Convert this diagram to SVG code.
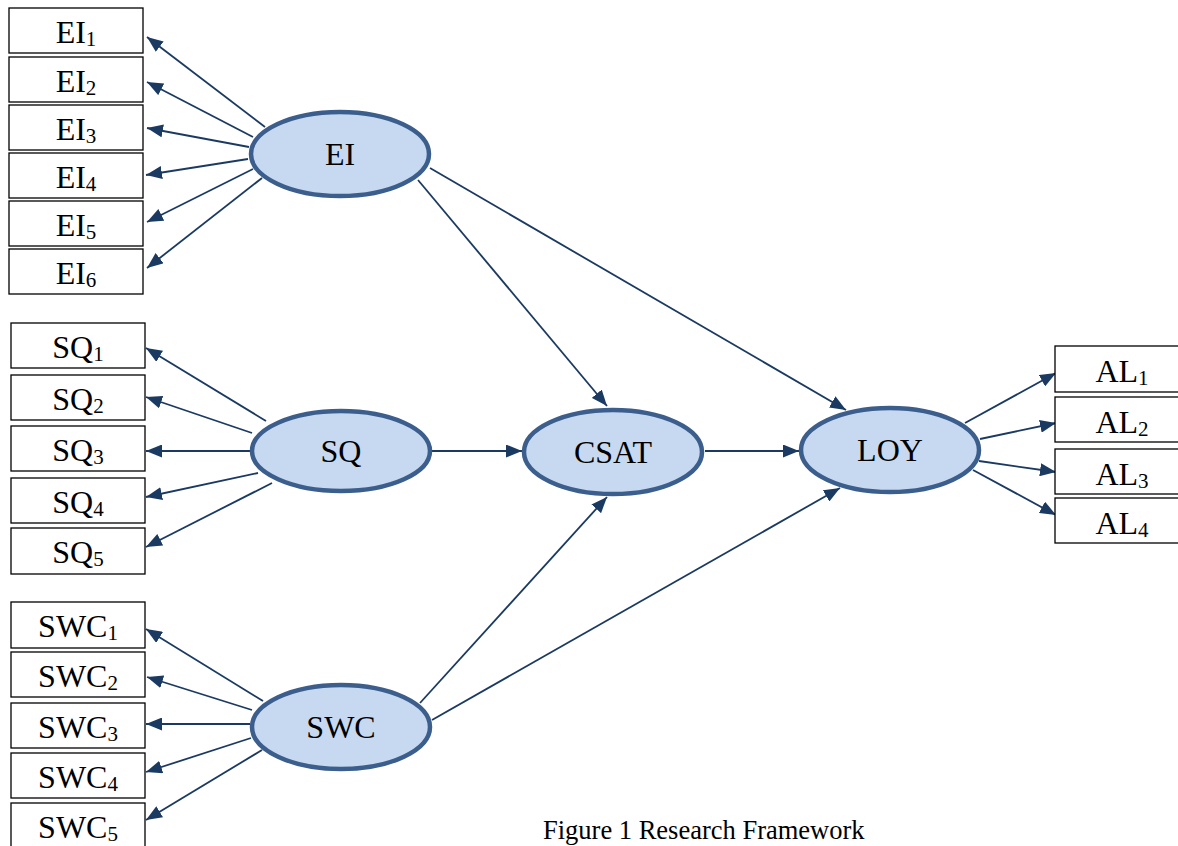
<svg xmlns="http://www.w3.org/2000/svg" width="1178" height="846" viewBox="0 0 1178 846">
<style>
.box{fill:#fff;stroke:#000;stroke-width:1.3}
.lat{fill:#C6D9F1;stroke:#3B5E8C;stroke-width:4.5}
.t{font-family:"Liberation Serif","Times New Roman",serif;font-size:32px;fill:#000;text-anchor:middle}
.s{font-size:21px}
.c{stroke:#1B3A62;stroke-width:1.8;fill:none;marker-end:url(#ah)}
.cap{font-family:"Liberation Serif","Times New Roman",serif;font-size:26.5px;fill:#000}
</style>
<defs>
<marker id="ah" markerUnits="userSpaceOnUse" markerWidth="17" markerHeight="13" refX="16" refY="6.5" orient="auto">
<path d="M0,0 L16,6.5 L0,13 Z" fill="#1B3A62"/>
</marker>
</defs>
<rect width="1178" height="846" fill="#fff"/>

<g id="connectors">
<line class="c" x1="265" y1="127" x2="147" y2="37"/>
<line class="c" x1="253" y1="137" x2="147" y2="82"/>
<line class="c" x1="249" y1="147" x2="147" y2="128"/>
<line class="c" x1="248" y1="159" x2="146" y2="175"/>
<line class="c" x1="253" y1="169" x2="147" y2="222"/>
<line class="c" x1="262" y1="178" x2="147" y2="268"/>

<line class="c" x1="266" y1="421" x2="146" y2="348"/>
<line class="c" x1="252" y1="433" x2="146" y2="397"/>
<line class="c" x1="250" y1="451" x2="146" y2="451"/>
<line class="c" x1="258" y1="473" x2="146" y2="497"/>
<line class="c" x1="272" y1="483" x2="146" y2="547"/>

<line class="c" x1="263" y1="701" x2="146" y2="629"/>
<line class="c" x1="252" y1="710" x2="147" y2="677"/>
<line class="c" x1="250" y1="724" x2="146" y2="724"/>
<line class="c" x1="251" y1="738" x2="146" y2="772"/>
<line class="c" x1="262" y1="750" x2="146" y2="820"/>

<line class="c" x1="965" y1="423" x2="1056" y2="373"/>
<line class="c" x1="980" y1="439" x2="1056" y2="423"/>
<line class="c" x1="979" y1="461" x2="1056" y2="472"/>
<line class="c" x1="973" y1="470" x2="1056" y2="515"/>

<line class="c" x1="418" y1="180" x2="607" y2="406"/>
<line class="c" x1="430" y1="168" x2="846" y2="410"/>
<line class="c" x1="432" y1="451" x2="522" y2="451"/>
<line class="c" x1="705" y1="451" x2="799" y2="451"/>
<line class="c" x1="420" y1="703" x2="607" y2="497"/>
<line class="c" x1="432" y1="720" x2="840" y2="488"/>
</g>

<g id="EI1"><rect class="box" x="9" y="8" width="134" height="45"/><text class="t" x="76" y="43">EI<tspan class="s" dy="3">1</tspan></text></g>
<g id="EI2"><rect class="box" x="9" y="57" width="134" height="45"/><text class="t" x="76" y="92">EI<tspan class="s" dy="3">2</tspan></text></g>
<g id="EI3"><rect class="box" x="9" y="105" width="134" height="45"/><text class="t" x="76" y="140">EI<tspan class="s" dy="3">3</tspan></text></g>
<g id="EI4"><rect class="box" x="9" y="153" width="134" height="45"/><text class="t" x="76" y="188">EI<tspan class="s" dy="3">4</tspan></text></g>
<g id="EI5"><rect class="box" x="9" y="201" width="134" height="45"/><text class="t" x="76" y="236">EI<tspan class="s" dy="3">5</tspan></text></g>
<g id="EI6"><rect class="box" x="9" y="249" width="134" height="45"/><text class="t" x="76" y="284">EI<tspan class="s" dy="3">6</tspan></text></g>

<g id="SQ1"><rect class="box" x="11" y="323" width="134" height="45"/><text class="t" x="78" y="358">SQ<tspan class="s" dy="3">1</tspan></text></g>
<g id="SQ2"><rect class="box" x="11" y="375" width="134" height="45"/><text class="t" x="78" y="410">SQ<tspan class="s" dy="3">2</tspan></text></g>
<g id="SQ3"><rect class="box" x="11" y="426" width="134" height="45"/><text class="t" x="78" y="461">SQ<tspan class="s" dy="3">3</tspan></text></g>
<g id="SQ4"><rect class="box" x="11" y="478" width="134" height="45"/><text class="t" x="78" y="513">SQ<tspan class="s" dy="3">4</tspan></text></g>
<g id="SQ5"><rect class="box" x="11" y="528" width="134" height="46"/><text class="t" x="78" y="563">SQ<tspan class="s" dy="3">5</tspan></text></g>

<g id="SWC1"><rect class="box" x="11" y="602" width="134" height="46"/><text class="t" x="78" y="637">SWC<tspan class="s" dy="3">1</tspan></text></g>
<g id="SWC2"><rect class="box" x="11" y="652" width="134" height="45"/><text class="t" x="78" y="687">SWC<tspan class="s" dy="3">2</tspan></text></g>
<g id="SWC3"><rect class="box" x="11" y="703" width="134" height="45"/><text class="t" x="78" y="738">SWC<tspan class="s" dy="3">3</tspan></text></g>
<g id="SWC4"><rect class="box" x="11" y="753" width="134" height="45"/><text class="t" x="78" y="788">SWC<tspan class="s" dy="3">4</tspan></text></g>
<g id="SWC5"><rect class="box" x="11" y="803" width="134" height="50"/><text class="t" x="78" y="838">SWC<tspan class="s" dy="3">5</tspan></text></g>

<g id="AL1"><rect class="box" x="1055" y="346" width="134" height="46"/><text class="t" x="1122" y="382">AL<tspan class="s" dy="3">1</tspan></text></g>
<g id="AL2"><rect class="box" x="1055" y="397" width="134" height="45"/><text class="t" x="1122" y="433">AL<tspan class="s" dy="3">2</tspan></text></g>
<g id="AL3"><rect class="box" x="1055" y="449" width="134" height="45"/><text class="t" x="1122" y="485">AL<tspan class="s" dy="3">3</tspan></text></g>
<g id="AL4"><rect class="box" x="1055" y="498" width="134" height="45"/><text class="t" x="1122" y="534">AL<tspan class="s" dy="3">4</tspan></text></g>

<g id="EI"><ellipse class="lat" cx="340" cy="154" rx="89" ry="42"/><text class="t" x="340" y="165">EI</text></g>
<g id="SQ"><ellipse class="lat" cx="341" cy="451" rx="89" ry="40"/><text class="t" x="341" y="462">SQ</text></g>
<g id="SWC"><ellipse class="lat" cx="341" cy="727" rx="89" ry="42"/><text class="t" x="341" y="738">SWC</text></g>
<g id="CSAT"><ellipse class="lat" cx="613" cy="452" rx="89" ry="42"/><text class="t" x="613" y="463">CSAT</text></g>
<g id="LOY"><ellipse class="lat" cx="890" cy="450" rx="89" ry="42"/><text class="t" x="890" y="461">LOY</text></g>

<text class="cap" x="543" y="839">Figure 1 Research Framework</text>
</svg>
